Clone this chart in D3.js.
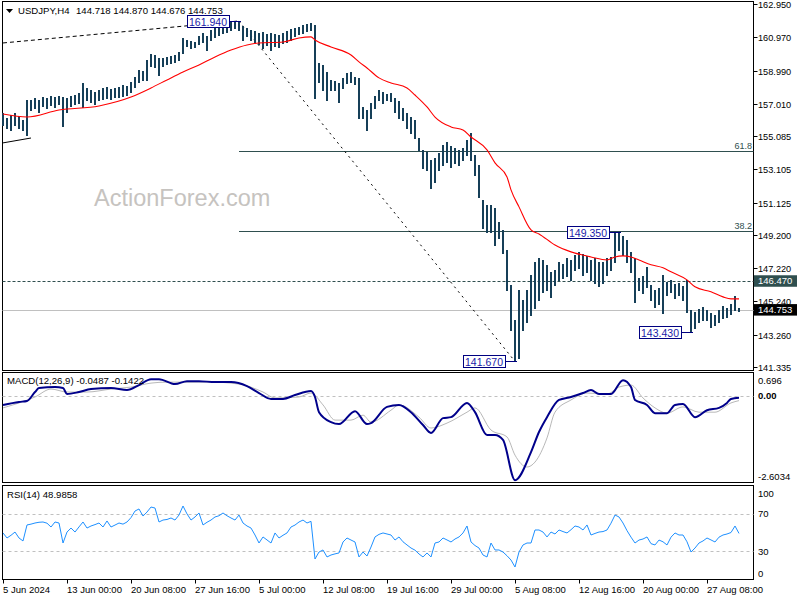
<!DOCTYPE html>
<html><head><meta charset="utf-8">
<script src="https://cdnjs.cloudflare.com/ajax/libs/d3/7.8.5/d3.min.js"></script>
<style>body{margin:0;background:#fff}svg{display:block}text{font-family:"Liberation Sans",Arial,sans-serif}</style>
</head><body><svg id="c" width="800" height="600"></svg>
<script>
// ---------- DATA ----------
const symbol = "USDJPY,H4";
const ohlcText = "144.718 144.870 144.676 144.753";
const highs = [156.46,156.16,156.34,156.46,156.28,156.05,157.24,157.24,157.35,157.24,
157.41,157.35,157.47,157.41,157.47,157.41,157.35,157.47,157.53,157.65,
158.25,157.95,157.83,157.71,157.83,157.95,158.01,157.89,157.95,158.01,
158.13,158.07,158.31,158.60,159.02,158.96,159.62,159.97,159.91,159.74,
159.74,159.80,159.85,159.91,160.09,160.93,160.81,160.75,160.69,161.05,
161.22,161.05,161.40,161.58,161.70,161.88,161.82,161.90,161.88,161.94,
161.64,161.52,161.40,161.34,161.22,161.28,161.16,161.22,161.16,161.10,
161.22,161.34,161.46,161.52,161.58,161.70,161.76,161.82,161.70,159.44,
159.32,158.90,158.43,158.37,158.25,158.55,158.84,158.90,158.60,158.55,
156.82,156.64,157.06,157.47,157.83,157.71,157.59,157.65,157.35,157.18,
156.76,156.46,156.22,156.05,154.97,154.26,154.14,153.66,153.78,154.08,
154.56,154.74,154.50,154.38,154.26,154.38,154.86,155.27,153.96,153.37,
151.28,150.99,150.99,150.81,149.98,149.50,148.31,146.23,144.14,145.93,
145.33,145.93,146.82,147.59,147.83,147.71,147.42,147.00,147.12,147.59,
147.47,147.83,147.71,148.01,148.19,148.07,147.95,147.71,147.83,147.59,
147.59,147.83,147.89,149.32,149.35,149.14,148.90,148.19,147.83,146.64,
146.76,147.30,146.23,145.93,146.05,146.82,146.40,146.52,146.29,146.35,
146.17,146.52,144.74,144.62,144.80,144.92,144.74,144.56,144.44,144.74,
144.98,144.86,145.10,145.57,144.87];
const lows = [155.75,155.57,155.45,155.75,155.57,155.45,155.15,156.64,156.76,156.52,
156.88,156.76,156.94,156.82,157.00,155.69,156.52,156.88,157.00,157.06,
156.82,157.24,157.12,157.00,157.24,157.30,157.35,157.30,157.41,157.41,
157.47,157.53,157.71,158.01,158.31,158.43,158.43,159.26,159.20,158.72,
159.26,159.38,159.44,159.50,159.62,160.03,160.45,160.33,160.39,160.57,
160.69,160.21,160.81,160.99,161.10,161.22,161.28,161.40,161.52,161.40,
160.81,161.05,160.81,160.69,160.57,160.33,160.51,160.21,160.45,160.39,
160.63,160.69,160.81,161.05,161.16,161.22,161.34,161.40,157.35,158.31,
157.83,157.24,157.83,157.83,157.12,157.95,158.25,158.31,158.19,156.16,
156.16,155.45,156.16,156.76,157.24,157.06,157.24,157.18,156.52,156.16,
156.05,155.57,155.27,154.97,154.26,153.19,153.07,152.00,152.36,153.07,
153.37,153.55,153.25,153.49,153.37,153.66,153.96,153.66,152.77,151.46,
149.62,149.38,149.38,148.60,149.02,148.13,145.93,143.55,141.67,141.88,
143.55,144.02,144.44,144.86,145.33,145.81,145.93,145.51,146.23,146.52,
146.64,146.76,146.52,147.12,147.24,146.82,147.00,146.52,146.35,146.17,
146.35,146.82,147.12,147.59,148.31,148.01,147.59,147.00,145.21,145.93,
145.75,146.11,145.33,144.92,145.10,144.56,145.63,145.81,145.45,145.63,
145.33,144.62,143.43,143.67,144.02,144.14,144.14,143.73,143.85,144.02,
144.26,144.32,144.50,144.74,144.676];
const maIdx = [0,6,14,24,32,37,41,45,49,53,57,61,64,70,74,77,78,82,87,89,91,94,97,101,103,106,108,112,115,117,121,123,126,127,129,132,134,138,142,147,151,153,155,157,159,162,165,167,171,173,177,180,182,184];
const maVal = [156.40,156.22,156.64,156.88,157.41,157.95,158.43,158.90,159.32,159.80,160.21,160.51,160.63,160.69,160.93,160.99,160.81,160.39,159.91,159.50,159.14,158.55,158.25,157.95,157.53,156.82,156.22,155.63,155.45,155.03,154.26,153.49,152.65,151.88,150.87,149.50,149.26,148.60,148.19,147.89,147.71,147.89,147.95,147.89,147.71,147.42,147.24,147.00,146.52,146.11,145.81,145.51,145.39,145.39];
const macdIdx = [0,4,6,8,9,13,15,16,19,22,27,31,34,37,39,43,46,49,53,57,61,64,67,70,73,77,78,79,82,84,88,91,92,96,99,102,105,107,110,112,116,118,121,123,125,128,132,134,136,139,142,145,147,149,152,155,157,158,161,163,166,168,170,173,176,179,181,182,184];
const macdVal = [-0.27,-0.18,-0.15,0.12,0.24,0.27,0.24,0.06,0.12,0.21,0.24,0.18,0.33,0.51,0.51,0.36,0.45,0.45,0.42,0.42,0.30,0.09,-0.09,-0.09,0.03,0.15,-0.03,-0.49,-0.79,-0.85,-0.46,-0.85,-0.82,-0.33,-0.27,-0.49,-0.88,-1.12,-0.67,-0.64,-0.21,-0.49,-1.18,-1.18,-1.33,-2.55,-1.70,-1.09,-0.64,-0.12,-0.03,0.09,0.18,0.06,0.06,0.48,0.27,-0.12,-0.27,-0.52,-0.52,-0.27,-0.24,-0.64,-0.43,-0.36,-0.21,-0.09,-0.05];
const sigIdx = [0,4,8,12,16,21,27,32,37,41,46,52,59,65,68,74,77,80,83,87,90,92,97,99,104,107,111,116,118,122,126,128,131,133,136,138,142,146,151,154,157,160,163,166,170,174,178,182,184];
const sigVal = [-0.36,-0.21,-0.03,0.21,0.12,0.12,0.21,0.27,0.39,0.42,0.42,0.42,0.36,0.12,-0.06,-0.03,0.09,-0.27,-0.73,-0.73,-0.58,-0.79,-0.43,-0.27,-0.64,-0.97,-0.82,-0.49,-0.36,-1.03,-1.24,-1.79,-2.15,-2.00,-1.27,-0.49,-0.12,0.09,0.06,0.27,0.33,-0.06,-0.36,-0.52,-0.33,-0.49,-0.49,-0.21,-0.14];
const rsi = [49.5,44.1,47,50.5,44.1,40.9,58.1,59,60.2,61,
61.3,60,55.9,61.3,60.2,38.7,50.5,54.8,50.5,56,
61.3,54.8,57,58.5,60.2,55.9,62.4,55.9,58,60.2,
59,61.3,66,73.1,75.3,67.7,72,77.4,76.3,61.3,
63.4,64,65.6,63.4,68.8,78.5,70,63.4,66.7,71,
58.1,61,63.4,66.7,68,71,68,65.6,63.4,68.8,
60.2,57,54.8,47.3,38.7,45.2,42,38.7,49.5,44.1,
47,49.5,55.9,58,61.3,63.4,60.2,62,21.5,29,
31.2,23.7,25.8,27,28,39.8,44.1,41.9,39.8,23.7,
29,24.7,34.4,45.2,48,49.5,48.4,47.3,41.9,45.2,
40,36.6,33.3,31,26.9,23.7,28,23.7,38.7,39.8,
44.1,42,39.8,43,45.2,49.5,57,39.8,36,33.3,
25.8,23.7,38.7,31.2,31.2,29,25,20.4,12.9,29,
36.6,38.7,38.7,52.7,52.7,50.5,45.2,50.5,48.4,52.7,
51,49.5,53,57,55.9,52.7,58.1,47.3,49,50.5,
51,52.7,60,68.8,66.7,60.2,52,45,38.7,41.9,
43,45.2,38,36.6,41.9,40,36.6,45,49.5,47.3,
47.3,40,29,33.3,38.7,40.9,44.1,42,39.8,45,
47.3,48.4,50,57,49];
const priceTicks = [162.950,160.970,158.990,157.010,155.085,153.105,151.125,149.200,147.220,145.240,143.260,141.335];
const timeIdx = [0,16,32,48,64,80,96,112,128,144,160,176];
const timeLabels = ["5 Jun 2024","13 Jun 00:00","20 Jun 08:00","27 Jun 16:00","5 Jul 00:00","12 Jul 08:00","19 Jul 16:00","29 Jul 00:00","5 Aug 08:00","12 Aug 16:00","20 Aug 00:00","27 Aug 08:00"];
const swingHigh = {idx:59, price:161.940, label:"161.940"};
const swingLow = {idx:128, price:141.670, label:"141.670"};
const swingBoxes = [swingHigh, swingLow, {idx:154, price:149.350, label:"149.350"}, {idx:172, price:143.430, label:"143.430"}];
const fibLevels = [{ratio:0.618, label:"61.8"}, {ratio:0.382, label:"38.2"}];
const resistance = 146.470, lastPrice = 144.753;
const trend1 = [{idx:0, price:160.63}, {idx:59, price:161.94}];
const trend2 = [{idx:59, price:161.94}, {idx:128, price:141.67}];
const stubLine = [{idx:0, price:154.68}, {idx:7, price:154.97}];
const macdRange = [-2.6034, 0.696];
const macdTitle = "MACD(12,26,9) -0.0487 -0.1422";
const rsiTitle = "RSI(14) 48.9858";
const rsiLevels = [70, 30];

// ---------- LAYOUT ----------
const svg = d3.select('#c');
const L = 2.5, R = 753.5;
const P = {top:1.5, bot:370.5}, M = {top:372.5, bot:482.5}, S = {top:485.5, bot:579.5};
const x = d3.scaleLinear().domain([0, 184]).range([3, 739]);
const yP = d3.scaleLinear().domain([141.335, 162.95]).range([367, 4]);
const yM = d3.scaleLinear().domain(macdRange).range([482, 373]);
const yR = d3.scaleLinear().domain([0, 100]).range([579, 486]);
const slate = "#2F4F4F", barCol = "#163f58";

svg.append('rect').attr('width',800).attr('height',600).attr('fill','#fff');
[P, M, S].forEach(p => svg.append('rect').attr('x', L).attr('y', p.top).attr('width', R - L).attr('height', p.bot - p.top)
  .attr('fill', 'none').attr('stroke', '#000').attr('stroke-width', 1));

svg.append('text').attr('x', 94).attr('y', 206).attr('font-size', 23.5).attr('fill', '#c6c3c0').text('ActionForex.com');

const main = svg.append('g');
main.append('line').attr('x1', L).attr('x2', R).attr('y1', Math.round(yP(lastPrice)) + .5).attr('y2', Math.round(yP(lastPrice)) + .5).attr('stroke', '#c0c0c0');
main.append('line').attr('x1', L).attr('x2', R).attr('y1', Math.round(yP(resistance)) + .5).attr('y2', Math.round(yP(resistance)) + .5)
  .attr('stroke', slate).attr('stroke-dasharray', '3,2');

const range = swingHigh.price - swingLow.price;
fibLevels.forEach(f => {
  const yy = Math.round(yP(swingLow.price + f.ratio * range)) + .5;
  main.append('line').attr('x1', x(swingHigh.idx)).attr('x2', R).attr('y1', yy).attr('y2', yy).attr('stroke', slate);
  main.append('text').attr('x', 752).attr('y', yy - 3).attr('text-anchor', 'end').attr('font-size', 9).attr('fill', slate).text(f.label);
});

const tl = d3.line().x(d => x(d.idx)).y(d => yP(d.price));
main.append('path').attr('d', tl(trend1)).attr('fill', 'none').attr('stroke', '#000').attr('stroke-dasharray', '4,3');
main.append('path').attr('d', tl(trend2)).attr('fill', 'none').attr('stroke', '#000').attr('stroke-dasharray', '2,4');
main.append('path').attr('d', tl(stubLine)).attr('fill', 'none').attr('stroke', '#000');

main.selectAll('line.bar').data(highs).enter().append('line').attr('class', 'bar')
  .attr('x1', (d, i) => Math.round(x(i))).attr('x2', (d, i) => Math.round(x(i)))
  .attr('y1', d => yP(d)).attr('y2', (d, i) => yP(lows[i]) + 1)
  .attr('stroke', barCol).attr('stroke-width', 2).attr('shape-rendering', 'crispEdges');

const maData = maIdx.map((d, i) => ({idx: d, v: maVal[i]}));
main.append('path').attr('d', d3.line().x(d => x(d.idx)).y(d => yP(d.v)).curve(d3.curveMonotoneX)(maData))
  .attr('fill', 'none').attr('stroke', '#ff0000').attr('stroke-width', 1.1);

swingBoxes.forEach(b => {
  const bx = x(b.idx), by = Math.round(yP(b.price)) + .5;
  main.append('line').attr('x1', bx - 10).attr('x2', bx + 2).attr('y1', by).attr('y2', by).attr('stroke', '#000080');
  main.append('rect').attr('x', Math.round(bx - 52) + .5).attr('y', by - 6).attr('width', 42).attr('height', 12)
    .attr('fill', '#fff').attr('stroke', '#000080');
  main.append('text').attr('x', bx - 31).attr('y', by + 4.5).attr('text-anchor', 'middle').attr('font-size', 10.5)
    .attr('fill', '#1a1aa8').text(b.label);
});

svg.append('path').attr('d', 'M6,9 L13,9 L9.5,13 Z').attr('fill', '#000');
svg.append('text').attr('x', 18).attr('y', 14).attr('font-size', 9.6).attr('fill', '#000').text(symbol);
svg.append('text').attr('x', 76).attr('y', 14).attr('font-size', 9.6).attr('fill', '#000').text(ohlcText);

const ax = svg.append('g');
priceTicks.forEach(t => {
  const yy = Math.round(yP(t)) + .5;
  ax.append('line').attr('x1', R).attr('x2', R + 4).attr('y1', yy).attr('y2', yy).attr('stroke', '#000');
  ax.append('text').attr('x', 758).attr('y', yy + 3).attr('font-size', 9.2).attr('fill', '#000').text(t.toFixed(3));
});
[[resistance, slate], [lastPrice, '#000']].forEach(([v, c]) => {
  const yy = yP(v);
  ax.append('rect').attr('x', 754).attr('y', yy - 5.5).attr('width', 43).attr('height', 11.5).attr('fill', c);
  ax.append('text').attr('x', 758).attr('y', yy + 3.5).attr('font-size', 9.5).attr('fill', '#fff').text(v.toFixed(3));
});

svg.append('line').attr('x1', L).attr('x2', R).attr('y1', Math.round(yM(0)) + .5).attr('y2', Math.round(yM(0)) + .5)
  .attr('stroke', '#c0c0c0').attr('stroke-dasharray', '3,3');
const sigData = sigIdx.map((d, i) => ({idx: d, v: sigVal[i]}));
const macdData = macdIdx.map((d, i) => ({idx: d, v: macdVal[i]}));
const ml = d3.line().x(d => x(d.idx)).y(d => yM(d.v)).curve(d3.curveMonotoneX);
svg.append('path').attr('d', ml(sigData)).attr('fill', 'none').attr('stroke', '#b8b8b8').attr('stroke-width', 1);
svg.append('path').attr('d', ml(macdData)).attr('fill', 'none').attr('stroke', '#00008b').attr('stroke-width', 2);
svg.append('text').attr('x', 7).attr('y', 384).attr('font-size', 9.6).attr('fill', '#000').text(macdTitle);
[[yM(macdRange[1]) + 7, "0.696"], [yM(0), "0.00"], [yM(macdRange[0]) - 6, "-2.6034"]].forEach(([yy, lab]) => {
  svg.append('text').attr('x', 758).attr('y', yy + 3.5).attr('font-size', 9.5).attr('fill', '#000')
    .attr('font-weight', lab === "0.00" ? 'bold' : 'normal').text(lab);
});

rsiLevels.forEach(l => svg.append('line').attr('x1', L).attr('x2', R).attr('y1', Math.round(yR(l)) + .5).attr('y2', Math.round(yR(l)) + .5)
  .attr('stroke', '#c0c0c0').attr('stroke-dasharray', '3,3'));
svg.append('path').attr('d', d3.line().x((d, i) => x(i)).y(d => yR(d))(rsi)).attr('fill', 'none').attr('stroke', '#1e90ff').attr('stroke-width', 1);
svg.append('text').attr('x', 7).attr('y', 498).attr('font-size', 9.6).attr('fill', '#000').text(rsiTitle);
[[100, yR(100) + 7], [70, yR(70)], [30, yR(30)], [0, yR(0) - 6]].forEach(([v, yy]) => {
  svg.append('text').attr('x', 758).attr('y', yy + 3.5).attr('font-size', 9.5).attr('fill', '#000').text(v);
});

timeIdx.forEach((t, i) => {
  const xx = Math.round(x(t)) + .5;
  svg.append('line').attr('x1', xx).attr('x2', xx).attr('y1', S.bot).attr('y2', S.bot + 4).attr('stroke', '#000');
  svg.append('text').attr('x', xx - 0.5).attr('y', 593).attr('font-size', 9.5).attr('fill', '#000').text(timeLabels[i]);
});
</script></body></html>
